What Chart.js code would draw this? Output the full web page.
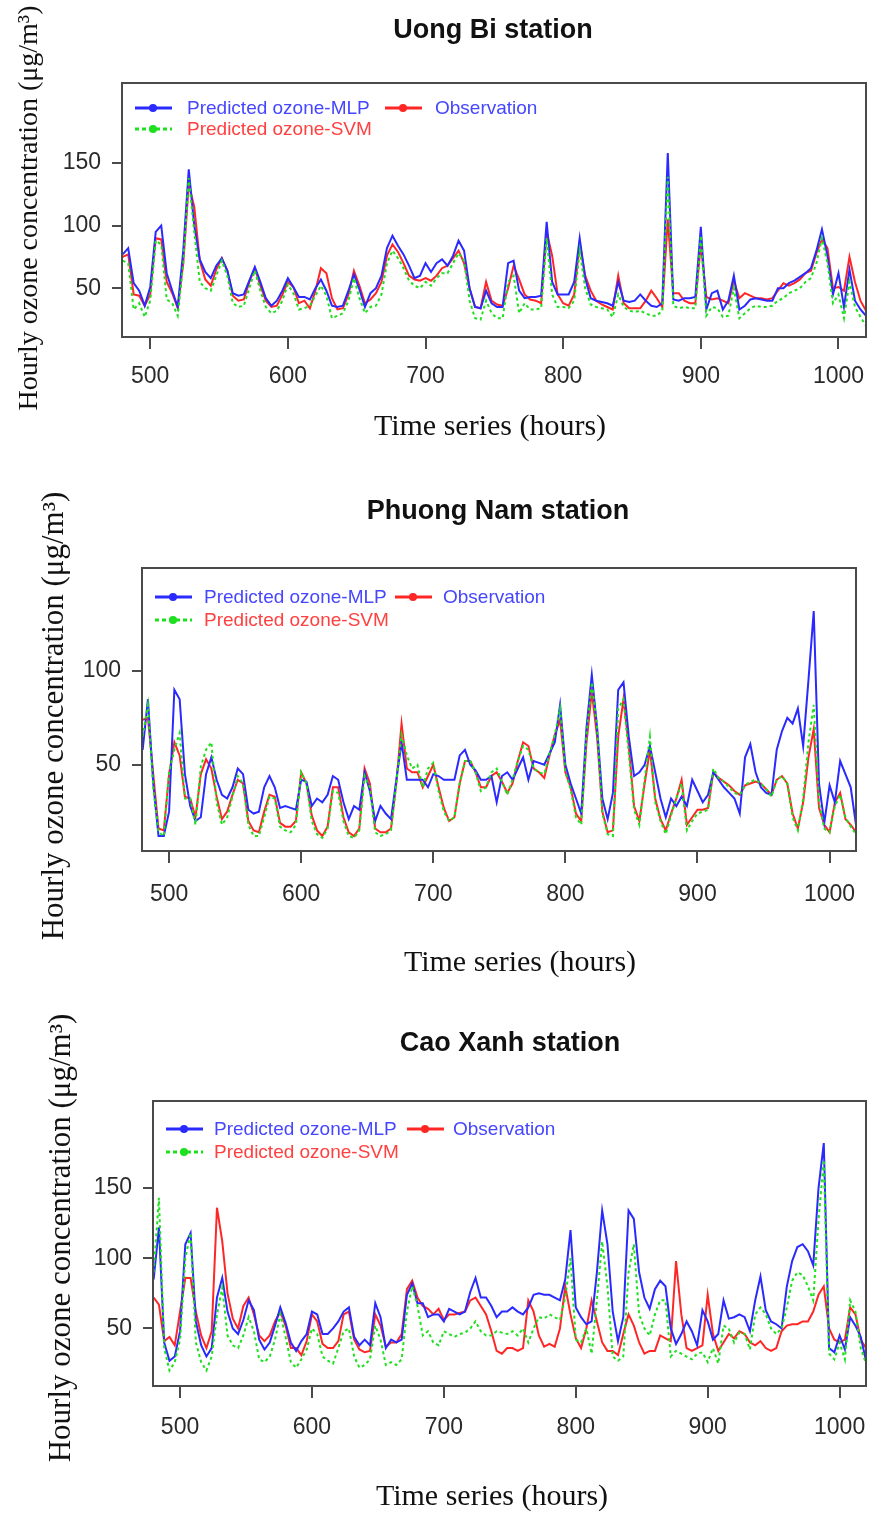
<!DOCTYPE html>
<html>
<head>
<meta charset="utf-8">
<title>Hourly ozone concentration</title>
<script src="https://cdn.jsdelivr.net/npm/chart.js@4.4.0/dist/chart.umd.min.js"></script>
<style>
  html, body { margin: 0; padding: 0; background: #fff; }
  #page { position: relative; width: 870px; height: 1515px; overflow: hidden; }
  .panel { position: absolute; left: 0; width: 870px; }
</style>
</head>
<body>
<div id="page">
  <div class="panel" style="top:0px;height:460px"><canvas id="chart-uongbi" width="870" height="460"></canvas></div>
  <div class="panel" style="top:460px;height:530px"><canvas id="chart-phuongnam" width="870" height="530"></canvas></div>
  <div class="panel" style="top:990px;height:525px"><canvas id="chart-caoxanh" width="870" height="525"></canvas></div>
</div>

<script>
// hours (x axis), sampled every 4 h
const hours = [
  480, 484, 488, 492, 496, 500, 504, 508, 512, 516,
  520, 524, 528, 532, 536, 540, 544, 548, 552, 556,
  560, 564, 568, 572, 576, 580, 584, 588, 592, 596,
  600, 604, 608, 612, 616, 620, 624, 628, 632, 636,
  640, 644, 648, 652, 656, 660, 664, 668, 672, 676,
  680, 684, 688, 692, 696, 700, 704, 708, 712, 716,
  720, 724, 728, 732, 736, 740, 744, 748, 752, 756,
  760, 764, 768, 772, 776, 780, 784, 788, 792, 796,
  800, 804, 808, 812, 816, 820, 824, 828, 832, 836,
  840, 844, 848, 852, 856, 860, 864, 868, 872, 876,
  880, 884, 888, 892, 896, 900, 904, 908, 912, 916,
  920, 924, 928, 932, 936, 940, 944, 948, 952, 956,
  960, 964, 968, 972, 976, 980, 984, 988, 992, 996,
  1000, 1004, 1008, 1012, 1016, 1020
];
const xTicks = [500, 600, 700, 800, 900, 1000];

// Uong Bi station
const uongBiMLP = [
  77, 82, 54, 48, 36, 51, 95, 100, 62, 48,
  35, 80, 145, 100, 73, 63, 58, 68, 74, 64,
  46, 44, 45, 56, 67, 55, 42, 36, 40, 48,
  58, 51, 43, 43, 41, 50, 57, 48, 36, 35,
  36, 48, 61, 49, 35, 46, 50, 60, 82, 92,
  84, 77, 68, 58, 60, 70, 63, 70, 73, 68,
  76, 88, 80, 50, 35, 34, 48, 38, 35, 35,
  70, 72, 48, 42, 43, 43, 44, 103, 55, 45,
  45, 45, 55, 90, 58, 42, 40, 39, 38, 36,
  55, 40, 39, 40, 45, 40, 36, 35, 38, 158,
  41, 40, 42, 42, 43, 99, 33, 46, 48, 33,
  40, 60, 33, 36, 41, 42, 41, 40, 40, 50,
  50, 54, 56, 59, 62, 66, 80, 97, 76, 45,
  62, 35, 65, 40, 33, 28
];
const uongBiObs = [
  75, 77, 45, 44, 36, 45, 90, 89, 55, 46,
  34, 70, 133, 115, 72, 57, 52, 65, 74, 64,
  44, 40, 41, 55, 66, 52, 40, 35, 36, 45,
  55, 51, 38, 40, 34, 48, 66, 62, 42, 33,
  34, 45, 64, 52, 38, 41, 46, 55, 76, 85,
  79, 70, 60, 57, 56, 58, 56, 60, 66, 68,
  74, 80, 70, 50, 35, 34, 55, 40, 37, 36,
  50, 68, 57, 45, 41, 40, 38, 95, 76, 45,
  38, 36, 45, 86, 60, 48, 40, 37, 35, 33,
  60, 38, 34, 34, 34, 40, 48, 42, 35, 105,
  46, 46, 40, 38, 38, 85, 43, 41, 42, 40,
  38, 56, 42, 46, 44, 42, 42, 41, 42, 48,
  54, 52, 54, 57, 62, 64, 78, 89, 82, 50,
  51, 48, 75, 55, 40, 32
];
const uongBiSVM = [
  72, 70, 33, 38, 27, 40, 88, 85, 41, 38,
  28, 70, 138, 95, 55, 50, 48, 60, 72, 60,
  38, 35, 36, 50, 64, 48, 35, 30, 32, 40,
  53, 46, 33, 34, 36, 44, 52, 44, 26, 28,
  30, 40, 58, 42, 30, 35, 36, 45, 70, 80,
  74, 66, 56, 52, 50, 55, 52, 58, 62, 62,
  70, 78, 72, 40, 26, 25, 40, 30, 26, 26,
  55, 60, 30, 38, 33, 33, 34, 90, 45, 35,
  35, 34, 40, 80, 50, 37, 35, 34, 33, 27,
  45, 35, 32, 31, 32, 30, 28, 28, 32, 139,
  36, 34, 35, 34, 34, 92, 28, 35, 34, 27,
  28, 50, 26, 30, 34, 36, 35, 35, 36, 40,
  42, 46, 48, 50, 55, 58, 70, 90, 70, 38,
  45, 26, 55, 35, 27, 20
];

// Phuong Nam station
const phuongNamMLP = [
  58, 85, 40, 12, 12, 25, 90, 85, 45, 28,
  20, 22, 45, 54, 42, 34, 32, 38, 48, 45,
  26, 24, 25, 38, 44, 38, 27, 28, 27, 26,
  42, 41, 28, 32, 30, 34, 44, 42, 30, 21,
  28, 26, 46, 36, 20, 28, 24, 21, 42, 62,
  42, 42, 42, 42, 38, 45, 44, 42, 42, 42,
  55, 58, 50, 47, 42, 42, 44, 30, 44, 46,
  42, 48, 54, 42, 52, 51, 50, 56, 62, 82,
  50, 40, 32, 24, 70, 98, 70, 32, 21, 35,
  90, 94, 65, 44, 46, 50, 60, 46, 32, 22,
  32, 28, 33, 28, 42, 36, 30, 34, 46, 42,
  38, 35, 32, 24, 54, 61, 46, 38, 35, 34,
  58, 68, 75, 72, 80, 60, 95, 132, 40, 19,
  39, 30, 52, 45, 38, 18
];
const phuongNamObs = [
  74, 75, 45, 16, 15, 45, 62, 55, 33, 32,
  22, 45, 53, 48, 33, 21, 25, 34, 42, 40,
  20, 15, 14, 25, 34, 33, 19, 17, 17, 20,
  46, 40, 23, 15, 12, 17, 38, 38, 22, 14,
  12, 16, 48, 40, 16, 14, 14, 16, 40, 72,
  48, 46, 46, 38, 44, 50, 38, 27, 20, 22,
  40, 52, 52, 46, 38, 38, 44, 46, 41, 35,
  40, 52, 62, 60, 48, 46, 43, 55, 66, 74,
  46, 38, 24, 20, 62, 89, 65, 25, 14, 15,
  65, 85, 60, 28, 20, 40, 58, 32, 21, 15,
  24, 32, 42, 18, 22, 26, 26, 27, 46, 43,
  41, 39, 36, 34, 39, 40, 41, 40, 37, 34,
  42, 44, 40, 24, 16, 30, 54, 69, 27, 18,
  14, 30, 35, 21, 18, 14
];
const phuongNamSVM = [
  65, 82, 38, 14, 12, 46, 58, 67, 32, 32,
  18, 49, 58, 62, 30, 18, 22, 33, 44, 40,
  18, 12, 12, 22, 33, 32, 17, 15, 14, 18,
  46, 40, 20, 13, 11, 16, 36, 35, 20, 12,
  11, 15, 44, 38, 14, 12, 13, 15, 40, 66,
  55, 48, 50, 38, 48, 51, 36, 25, 20, 22,
  40, 52, 52, 46, 36, 38, 46, 48, 41, 34,
  42, 52, 60, 58, 48, 46, 45, 56, 66, 80,
  46, 37, 22, 18, 66, 94, 70, 24, 13, 12,
  80, 85, 56, 26, 18, 42, 65, 30, 20, 13,
  23, 32, 40, 15, 20, 24, 25, 26, 48, 43,
  41, 38, 35, 34, 39, 41, 42, 40, 37, 33,
  42, 44, 40, 22, 15, 32, 62, 82, 30, 16,
  14, 28, 34, 22, 17, 13
];

// Cao Xanh station
const caoXanhMLP = [
  85, 122, 40, 27, 30, 48, 110, 118, 55, 38,
  30, 36, 72, 86, 62, 50, 46, 56, 70, 63,
  42, 35, 40, 52, 65, 54, 40, 34, 41, 46,
  62, 60, 46, 46, 50, 55, 62, 65, 44, 38,
  42, 38, 68, 58, 36, 42, 40, 42, 74, 82,
  68, 68, 58, 60, 60, 55, 64, 62, 60, 62,
  76, 86, 72, 72, 66, 58, 62, 62, 65, 62,
  60, 65, 74, 75, 74, 74, 72, 70, 85, 120,
  65, 58, 53, 55, 90, 134, 110, 62, 41, 58,
  134, 128, 90, 72, 64, 78, 84, 80, 50, 39,
  46, 55, 48, 38, 63, 55, 42, 46, 70, 57,
  58, 60, 58, 48, 70, 87, 63, 55, 53, 50,
  80, 98, 108, 110, 105, 95, 150, 182, 36, 33,
  45, 35, 58, 52, 44, 27
];
const caoXanhObs = [
  72, 67, 41, 44, 38, 62, 86, 86, 62, 45,
  36, 48, 136, 112, 75, 57, 50, 66, 72, 60,
  45, 41, 45, 55, 62, 52, 36, 36, 31, 41,
  60, 55, 39, 36, 36, 41, 60, 62, 42, 35,
  33, 34, 60, 52, 37, 40, 40, 46, 78, 84,
  72, 66, 64, 60, 64, 56, 60, 60, 61, 62,
  70, 72, 66, 60, 48, 34, 32, 36, 36, 34,
  36, 70, 62, 45, 37, 39, 37, 50, 80, 60,
  43, 36, 50, 70, 55, 40, 34, 34, 31, 46,
  60, 52, 40, 32, 34, 34, 45, 43, 41, 98,
  60, 36, 34, 36, 38, 74, 46, 34, 40, 46,
  43, 48, 46, 40, 38, 41, 36, 34, 36, 48,
  52, 53, 53, 55, 55, 62, 74, 80, 50, 42,
  40, 42, 65, 60, 42, 36
];
const caoXanhSVM = [
  90, 143, 36, 20, 26, 42, 100, 118, 40, 26,
  20, 30, 60, 79, 45, 38, 36, 45, 58, 48,
  28, 26, 30, 42, 60, 44, 26, 22, 28, 35,
  50, 46, 30, 27, 25, 36, 48, 50, 30, 22,
  24, 28, 52, 42, 24, 26, 24, 28, 62, 80,
  66, 45, 48, 40, 38, 48, 46, 44, 46, 47,
  50, 55, 48, 45, 45, 48, 47, 46, 48, 45,
  50, 40, 50, 58, 57, 60, 58, 56, 72, 100,
  42, 40, 50, 32, 70, 112, 80, 30, 27, 30,
  90, 110, 60, 50, 45, 60, 70, 70, 30, 34,
  32, 30, 28, 32, 33, 26, 36, 25, 52, 50,
  40, 47, 46, 35, 60, 65, 60, 50, 46, 50,
  65, 84, 90, 88, 80, 70, 127, 170, 32, 28,
  40, 28, 70, 62, 36, 25
];

const BLUE = '#2a2aff';
const RED = '#ff2626';
const GREEN = '#1fe01f';
const AXIS = '#4a4a4a';
const SANS = '"Liberation Sans", Arial, sans-serif';
const SERIF = '"Liberation Serif", "Times New Roman", serif';

// panel layout (page pixels)
const panels = [
  {
    id: 'chart-uongbi', top: 0, h: 460, title: 'Uong Bi station',
    mlp: uongBiMLP, obs: uongBiObs, svm: uongBiSVM,
    yMin: 11, yMax: 214, yTicks: [50, 100, 150],
    box: { l: 122, t: 83, r: 866, b: 337 }, xPad: 14,
    titlePos: [493, 31], xTitlePos: [490, 427], yTitlePos: [30, 208], yTitleSize: 28,
    leg: { x: 135, y: 108, gap: 21, tx: 187, x2: 385, tx2: 435 }
  },
  {
    id: 'chart-phuongnam', top: 460, h: 530, title: 'Phuong Nam station',
    mlp: phuongNamMLP, obs: phuongNamObs, svm: phuongNamSVM,
    yMin: 4, yMax: 155, yTicks: [50, 100],
    box: { l: 142, t: 568, r: 856, b: 851 }, xPad: 18,
    titlePos: [498, 512], xTitlePos: [520, 963], yTitlePos: [55, 716], yTitleSize: 31,
    leg: { x: 155, y: 597, gap: 23, tx: 204, x2: 395, tx2: 443 }
  },
  {
    id: 'chart-caoxanh', top: 990, h: 525, title: 'Cao Xanh station',
    mlp: caoXanhMLP, obs: caoXanhObs, svm: caoXanhSVM,
    yMin: 9, yMax: 212, yTicks: [50, 100, 150],
    box: { l: 153, t: 1101, r: 866, b: 1386 }, xPad: 16,
    titlePos: [510, 1044], xTitlePos: [492, 1497], yTitlePos: [62, 1238], yTitleSize: 31,
    leg: { x: 166, y: 1129, gap: 23, tx: 214, x2: 407, tx2: 453 }
  }
];

// titles, axis titles, legend and the box, drawn the way R does it
const rDecor = {
  id: 'rDecor',
  afterDraw(chart, args, p) {
    const ctx = chart.ctx;
    const a = chart.chartArea;
    const off = p.top;
    ctx.save();

    ctx.strokeStyle = AXIS;
    ctx.lineWidth = 2;
    ctx.strokeRect(a.left, a.top, a.right - a.left, a.bottom - a.top);

    ctx.fillStyle = '#111';
    ctx.textAlign = 'center';
    ctx.textBaseline = 'middle';
    ctx.font = 'bold 27px ' + SANS;
    ctx.fillText(p.title, p.titlePos[0], p.titlePos[1] - off);

    ctx.font = '30px ' + SERIF;
    ctx.fillText('Time series (hours)', p.xTitlePos[0], p.xTitlePos[1] - off);

    ctx.save();
    ctx.translate(p.yTitlePos[0], p.yTitlePos[1] - off);
    ctx.rotate(-Math.PI / 2);
    ctx.font = p.yTitleSize + 'px ' + SERIF;
    ctx.fillText('Hourly ozone concentration (\u03bcg/m\u00b3)', 0, 0);
    ctx.restore();

    // legend
    const L = p.leg;
    const items = [
      { sx: L.x, tx: L.tx, y: L.y, color: BLUE, dash: [], text: 'Predicted ozone-MLP', tc: '#4646ff' },
      { sx: L.x, tx: L.tx, y: L.y + L.gap, color: GREEN, dash: [4, 3], text: 'Predicted ozone-SVM', tc: '#ff4040' },
      { sx: L.x2, tx: L.tx2, y: L.y, color: RED, dash: [], text: 'Observation', tc: '#4646ff' }
    ];
    ctx.font = '19px ' + SANS;
    ctx.textAlign = 'left';
    items.forEach(it => {
      const y = it.y - off;
      ctx.strokeStyle = it.color;
      ctx.lineWidth = 3;
      ctx.setLineDash(it.dash);
      ctx.beginPath();
      ctx.moveTo(it.sx, y);
      ctx.lineTo(it.sx + 37, y);
      ctx.stroke();
      ctx.setLineDash([]);
      ctx.fillStyle = it.color;
      ctx.beginPath();
      ctx.arc(it.sx + 18, y, 4, 0, Math.PI * 2);
      ctx.fill();
      ctx.fillStyle = it.tc;
      ctx.fillText(it.text, it.tx, y + 1);
    });

    ctx.restore();
  }
};

function series(vals, color, dash, width) {
  return {
    data: hours.map((h, i) => ({ x: h, y: vals[i] })),
    borderColor: color,
    borderWidth: width,
    borderDash: dash,
    pointRadius: 0,
    tension: 0,
    fill: false
  };
}

function buildChart(p) {
  const plotBottom = p.box.b - p.top;
  new Chart(document.getElementById(p.id), {
    type: 'line',
    data: {
      datasets: [
        series(p.svm, GREEN, [3, 3], 2),
        series(p.mlp, BLUE, [], 2),
        series(p.obs, RED, [], 2)
      ]
    },
    options: {
      responsive: false,
      animation: false,
      events: [],
      layout: {
        autoPadding: false,
        padding: { left: 0, top: p.box.t - p.top, right: 870 - p.box.r, bottom: 0 }
      },
      plugins: {
        legend: { display: false },
        title: { display: false },
        tooltip: { enabled: false },
        rDecor: p
      },
      scales: {
        x: {
          type: 'linear',
          min: 479.5,
          max: 1020,
          afterBuildTicks: s => { s.ticks = xTicks.map(v => ({ value: v })); },
          afterFit: s => {
            s.height = p.h - plotBottom;
            s.paddingLeft = 0;
            s.paddingRight = 0;
          },
          grid: { drawOnChartArea: false, drawTicks: true, tickLength: 12, color: AXIS, lineWidth: 2 },
          border: { display: false },
          ticks: {
            padding: p.xPad, autoSkip: false, maxRotation: 0,
            callback: v => String(v),
            color: '#2a2a2a', font: { family: SANS, size: 23 }
          }
        },
        y: {
          type: 'linear',
          min: p.yMin,
          max: p.yMax,
          afterBuildTicks: s => { s.ticks = p.yTicks.map(v => ({ value: v })); },
          afterFit: s => {
            s.width = p.box.l;
            s.paddingTop = 0;
            s.paddingBottom = 0;
          },
          grid: { drawOnChartArea: false, drawTicks: true, tickLength: 10, color: AXIS, lineWidth: 2 },
          border: { display: false },
          ticks: {
            padding: 11,
            callback: v => String(v),
            color: '#2a2a2a', font: { family: SANS, size: 23 }
          }
        }
      }
    },
    plugins: [rDecor]
  });
}

panels.forEach(buildChart);
</script>
</body>
</html>
